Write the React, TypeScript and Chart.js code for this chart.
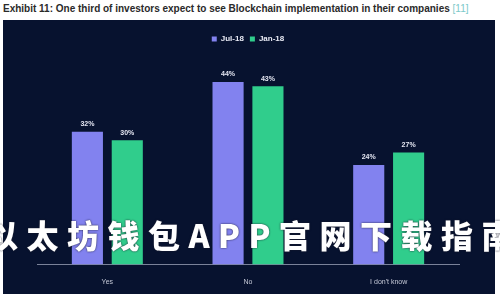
import React, { useEffect, useRef } from "react";
import { Chart, registerables } from "chart.js";

Chart.register(...registerables);

const categories = ["Yes", "No", "I don't know"];
const seriesNames = ["Jul-18", "Jan-18"];
const jul18 = [32, 44, 24];
const jan18 = [30, 43, 27];
const titleText = "Exhibit 11: One third of investors expect to see Blockchain implementation in their companies";
const titleRef = "[11]";
const watermark = "以太坊钱包APP官网下载指南";

const PURPLE = "#8282ef";
const GREEN = "#30cd8c";
const PANEL = "#07122f";

const valueLabels = {
  id: "valueLabels",
  afterDatasetsDraw(chart: any) {
    const ctx = chart.ctx;
    ctx.save();
    ctx.font = "bold 7px 'Liberation Sans', Arial, sans-serif";
    ctx.fillStyle = "#e4e6f2";
    ctx.textAlign = "center";
    ctx.textBaseline = "bottom";
    chart.data.datasets.forEach((ds: any, i: number) => {
      const meta = chart.getDatasetMeta(i);
      meta.data.forEach((bar: any, j: number) => {
        ctx.fillText(ds.data[j] + "%", bar.x, bar.y - 4);
      });
    });
    ctx.restore();
  },
};

export default function App() {
  const ref = useRef<HTMLCanvasElement>(null);
  useEffect(() => {
    if (!ref.current) return;
    const chart = new Chart(ref.current, {
      type: "bar",
      data: {
        labels: categories,
        datasets: [
          { label: seriesNames[0], data: jul18, backgroundColor: PURPLE },
          { label: seriesNames[1], data: jan18, backgroundColor: GREEN },
        ],
      },
      options: {
        animation: false,
        responsive: false,
        maintainAspectRatio: false,
        layout: { padding: { left: 34, right: 36, top: 9, bottom: 3 } },
        datasets: { bar: { categoryPercentage: 0.567, barPercentage: 0.78 } } as any,
        plugins: {
          legend: {
            display: true,
            position: "top",
            labels: {
              color: "#e8eaf4",
              font: { size: 8, weight: "bold", family: "'Liberation Sans', Arial, sans-serif" },
              boxWidth: 5,
              boxHeight: 5,
              padding: 6,
            },
          },
          tooltip: { enabled: false },
        },
        scales: {
          x: {
            grid: { display: false },
            border: { display: true, color: "#7a8299" },
            ticks: {
              color: "#c4c8d6",
              padding: 5,
              font: { size: 7, family: "'Liberation Sans', Arial, sans-serif" },
            },
          },
          y: {
            display: false,
            min: 0,
            max: 51,
          },
        },
      },
      plugins: [valueLabels],
    });
    return () => chart.destroy();
  }, []);

  return (
    <div
      style={{
        position: "fixed",
        left: 0,
        top: 0,
        width: 500,
        height: 300,
        background: "#ffffff",
        overflow: "hidden",
      }}
    >
      <div
        style={{
          position: "absolute",
          left: 3,
          top: 3,
          whiteSpace: "nowrap",
          fontFamily: "'Liberation Sans', Arial, sans-serif",
          fontWeight: "bold",
          fontSize: 10,
          color: "#2a2a2a",
        }}
      >
        {titleText} <span style={{ color: "#7cc9c9", fontWeight: "normal" }}>{titleRef}</span>
      </div>
      <div
        style={{
          position: "absolute",
          left: 3,
          top: 20,
          width: 492,
          height: 274,
          background: PANEL,
        }}
      >
        <canvas ref={ref} width={492} height={274} style={{ display: "block" }} />
      </div>
      <div
        style={{
          position: "absolute",
          left: -14,
          top: 214,
          whiteSpace: "nowrap",
          fontFamily: "'Noto Sans CJK SC', sans-serif",
          fontWeight: 900,
          fontSize: 32,
          letterSpacing: 8.5,
          color: "#ffffff",
          textShadow: "0 0 2px #1a1a2a",
          lineHeight: "40px",
        }}
      >
        {watermark}
      </div>
    </div>
  );
}
